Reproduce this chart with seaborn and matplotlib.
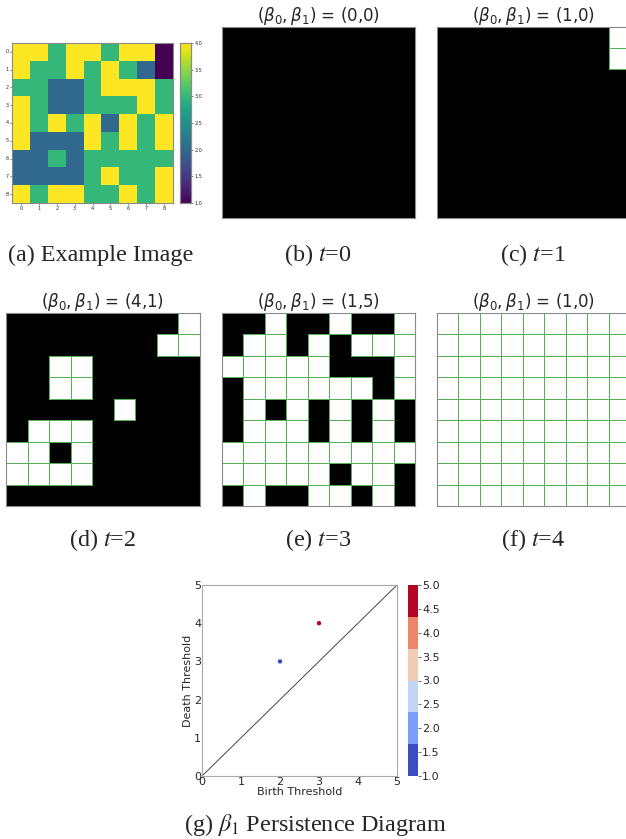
import numpy as np
import matplotlib
matplotlib.use("Agg")
import matplotlib.pyplot as plt
import seaborn as sns
from matplotlib.colors import ListedColormap, BoundaryNorm
from matplotlib.cm import ScalarMappable

# ---------------- data ----------------
image = np.array([
    [4, 4, 3, 4, 4, 3, 4, 4, 1],
    [4, 3, 3, 4, 3, 4, 3, 2, 1],
    [3, 3, 2, 2, 3, 4, 4, 4, 3],
    [4, 3, 2, 2, 3, 3, 3, 4, 3],
    [4, 3, 4, 3, 4, 2, 4, 3, 4],
    [4, 2, 2, 2, 4, 3, 4, 3, 4],
    [2, 2, 3, 2, 3, 3, 3, 3, 3],
    [2, 2, 2, 2, 3, 4, 3, 3, 4],
    [4, 3, 4, 4, 3, 3, 4, 3, 4],
])
thresholds = [0, 1, 2, 3, 4]
betti = [(0, 0), (1, 0), (4, 1), (1, 5), (1, 0)]
panel_letters = ["b", "c", "d", "e", "f"]

births = [2, 3]
deaths = [3, 4]
point_values = [1.0, 5.0]
cbar_ticks = [1.0, 1.5, 2.0, 2.5, 3.0, 3.5, 4.0, 4.5, 5.0]
pd_ticks = [0, 1, 2, 3, 4, 5]

# ---------------- figure ----------------
sns.set_theme(style="white")
plt.rcParams["font.family"] = ["DejaVu Sans"]

W, H = 626, 839
fig = plt.figure(figsize=(W / 100, H / 100), dpi=100)


def rect(x0, y0, x1, y1):
    return [x0 / W, 1 - y1 / H, (x1 - x0) / W, (y1 - y0) / H]


GREEN = "#55b055"
SPINE = "#8a8a8a"
SERIF = "Liberation Serif"
CAP_FS = 17.4

# (a) example image
ax_a = fig.add_axes(rect(12, 43, 173, 203))
cax_a = fig.add_axes(rect(180, 43, 191, 203))
sns.heatmap(image, cmap="viridis", vmin=1, vmax=4, ax=ax_a, cbar_ax=cax_a,
            square=False, xticklabels=True, yticklabels=True)
ax_a.tick_params(labelsize=3.5, length=1.5, width=0.4, pad=1, bottom=True, left=True)
ax_a.set_yticklabels(ax_a.get_yticklabels(), rotation=0)
for s in ax_a.spines.values():
    s.set_visible(True)
    s.set_color(SPINE)
    s.set_linewidth(0.8)
cax_a.set_yticks(cbar_ticks[:7])
cax_a.set_yticklabels([f"{v:.1f}" for v in cbar_ticks[:7]])
cax_a.tick_params(labelsize=3.5, length=1.5, width=0.4, pad=1, right=True)
cax_a.minorticks_off()
for s in cax_a.spines.values():
    s.set_visible(True)
    s.set_color(SPINE)
    s.set_linewidth(0.8)

# (b)-(f) thresholded images
rects = [rect(222, 27, 415, 218), rect(437, 27, 630, 218),
         rect(6, 313, 200, 506), rect(222, 313, 415, 506), rect(437, 313, 630, 506)]
for r, t, (b0, b1) in zip(rects, thresholds, betti):
    ax = fig.add_axes(r)
    on = (image <= t).astype(float)
    sns.heatmap(on, mask=(on == 0), cmap=ListedColormap(["white"]), vmin=0, vmax=1,
                cbar=False, linewidths=0.6, linecolor=GREEN, ax=ax,
                xticklabels=False, yticklabels=False)
    ax.set_facecolor("black")
    mesh = ax.collections[0]
    mesh.set_edgecolors([GREEN if v else (0, 0, 0, 0) for v in on.ravel()])
    for s in ax.spines.values():
        s.set_visible(True)
        s.set_color(SPINE)
        s.set_linewidth(0.8)
    ax.set_title(r"$(\beta_0,\beta_1)$ = (%d,%d)" % (b0, b1), fontsize=12, pad=2)

# captions
caps = [("(a) Example Image", 101, 255)]
centers = [(318, 255), (533, 255), (103, 540), (318, 540), (533, 540)]
for L, t, (cx, cy) in zip(panel_letters, thresholds, centers):
    caps.append((f"({L}) $t$={t}", cx, cy))
for txt, cx, cy in caps:
    fig.text(cx / W, 1 - cy / H, txt, ha="center", va="center", fontsize=CAP_FS,
             family=SERIF, math_fontfamily="stix")

# (g) persistence diagram
ax_g = fig.add_axes(rect(202, 585, 397, 776))
cax_g = fig.add_axes(rect(408, 585, 418, 776))
levels = np.linspace(1, 5, 7)
cmap_g = ListedColormap(plt.get_cmap("coolwarm")(np.linspace(0, 1, 6)))
norm_g = BoundaryNorm(levels, cmap_g.N)
ax_g.axline((0, 0), slope=1, color="#444444", linewidth=0.7)
sns.scatterplot(x=births, y=deaths, c=[cmap_g(norm_g(v)) for v in point_values],
                s=10, linewidth=0, ax=ax_g)
ax_g.set_xlim(0, 5)
ax_g.set_ylim(0, 5)
ax_g.set_xticks(pd_ticks)
ax_g.set_yticks(pd_ticks)
ax_g.tick_params(labelsize=8, length=0, pad=0.5)
ax_g.set_xlabel("Birth Threshold", fontsize=8, labelpad=0)
ax_g.set_ylabel("Death Threshold", fontsize=8, labelpad=1)
for s in ax_g.spines.values():
    s.set_color("#aaaaaa")
    s.set_linewidth(0.8)
cb = fig.colorbar(ScalarMappable(norm=norm_g, cmap=cmap_g), cax=cax_g)
cb.set_ticks(cbar_ticks)
cb.set_ticklabels([f"{v:.1f}" for v in cbar_ticks])
cb.ax.minorticks_off()
cb.ax.tick_params(labelsize=8, length=2, width=0.5, color="#333333", pad=1)
cb.outline.set_visible(False)

fig.text(315 / W, 1 - 825 / H, r"(g) $\beta_1$ Persistence Diagram", ha="center",
         va="center", fontsize=CAP_FS, family=SERIF, math_fontfamily="stix")

fig.savefig("out.png", dpi=100)
